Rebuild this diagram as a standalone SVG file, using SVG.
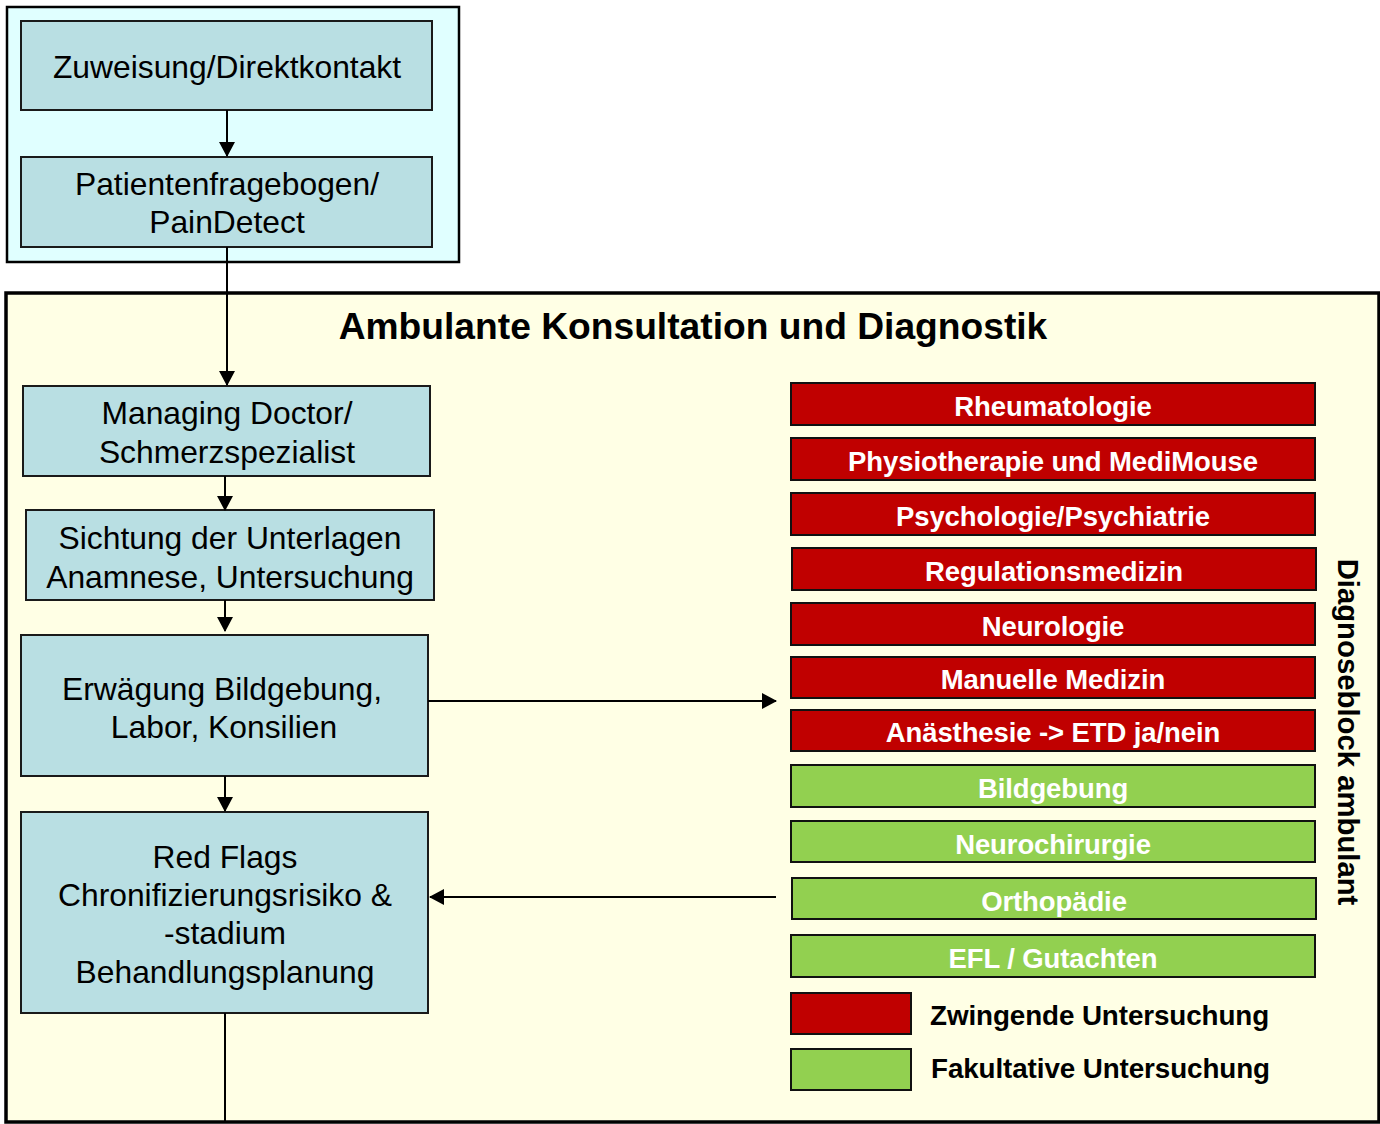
<svg xmlns="http://www.w3.org/2000/svg" width="1380" height="1124" viewBox="0 0 1380 1124">
<defs>
<marker id="ah" markerWidth="15" markerHeight="16" refX="14" refY="8" orient="auto" markerUnits="userSpaceOnUse">
<path d="M0,0 L15,8 L0,16 Z" fill="#000"/>
</marker>
<style>
.node{fill:#B9DFE3;stroke:#1a1a1a;stroke-width:2}
.t{font-family:"Liberation Sans",Arial,sans-serif;font-size:31.8px;fill:#000;text-anchor:middle}
.red{fill:#C00000;stroke:#111;stroke-width:2}
.grn{fill:#92D050;stroke:#111;stroke-width:2}
.w{font-family:"Liberation Sans",Arial,sans-serif;font-size:27.5px;font-weight:bold;fill:#fff;text-anchor:middle;letter-spacing:-0.1px}
.b{font-family:"Liberation Sans",Arial,sans-serif;font-size:27.8px;font-weight:bold;fill:#000;letter-spacing:-0.1px}
.c{stroke:#000;stroke-width:2;fill:none}
</style>
</defs>
<rect width="1380" height="1124" fill="#fff"/>
<g id="intake-container">
<rect x="7" y="7" width="452" height="255" fill="#E0FFFF" stroke="#000" stroke-width="2.5"/>
</g>
<g id="ambulant-container">
<rect x="6" y="293" width="1373" height="829" fill="#FFFFE5" stroke="#000" stroke-width="3.5"/>
<text x="693" y="339" font-family="Liberation Sans,Arial,sans-serif" font-size="37.2" font-weight="bold" text-anchor="middle" fill="#000">Ambulante Konsultation und Diagnostik</text>
</g>
<g id="zuweisung"><rect class="node" x="21" y="21" width="411" height="89"/><text class="t" x="227" y="78">Zuweisung/Direktkontakt</text></g>
<g id="patientenfragebogen"><rect class="node" x="21" y="157" width="411" height="90"/><text class="t" x="227" y="195">Patientenfragebogen/</text><text class="t" x="227" y="233">PainDetect</text></g>
<g id="managing"><rect class="node" x="23" y="386" width="407" height="90"/><text class="t" x="227" y="424">Managing Doctor/</text><text class="t" x="227" y="463">Schmerzspezialist</text></g>
<g id="sichtung"><rect class="node" x="26" y="510" width="408" height="90"/><text class="t" x="230" y="549">Sichtung der Unterlagen</text><text class="t" x="230" y="588">Anamnese, Untersuchung</text></g>
<g id="erwaegung"><rect class="node" x="21" y="635" width="407" height="141"/><text class="t" x="222" y="700">Erwägung Bildgebung,</text><text class="t" x="224" y="738">Labor, Konsilien</text></g>
<g id="redflags"><rect class="node" x="21" y="812" width="407" height="201"/><text class="t" x="225" y="868">Red Flags</text><text class="t" x="225" y="906">Chronifizierungsrisiko &amp;</text><text class="t" x="225" y="944">-stadium</text><text class="t" x="225" y="983">Behandlungsplanung</text></g>
<g id="rheumatologie"><rect class="red" x="791" y="383" width="524" height="42"/><text class="w" x="1053" y="416">Rheumatologie</text></g>
<g id="physiotherapie"><rect class="red" x="791" y="438" width="524" height="42"/><text class="w" x="1053" y="471">Physiotherapie und MediMouse</text></g>
<g id="psychologie"><rect class="red" x="791" y="493" width="524" height="42"/><text class="w" x="1053" y="526">Psychologie/Psychiatrie</text></g>
<g id="regulationsmedizin"><rect class="red" x="792" y="548" width="524" height="42"/><text class="w" x="1054" y="581">Regulationsmedizin</text></g>
<g id="neurologie"><rect class="red" x="791" y="603" width="524" height="42"/><text class="w" x="1053" y="636">Neurologie</text></g>
<g id="manuelle"><rect class="red" x="791" y="657" width="524" height="41"/><text class="w" x="1053" y="689">Manuelle Medizin</text></g>
<g id="anaesthesie"><rect class="red" x="791" y="710" width="524" height="41"/><text class="w" x="1053" y="742">Anästhesie -&gt; ETD ja/nein</text></g>
<g id="bildgebung"><rect class="grn" x="791" y="765" width="524" height="42"/><text class="w" x="1053" y="798">Bildgebung</text></g>
<g id="neurochirurgie"><rect class="grn" x="791" y="821" width="524" height="41"/><text class="w" x="1053" y="854">Neurochirurgie</text></g>
<g id="orthopaedie"><rect class="grn" x="792" y="878" width="524" height="41"/><text class="w" x="1054" y="911">Orthopädie</text></g>
<g id="efl"><rect class="grn" x="791" y="935" width="524" height="42"/><text class="w" x="1053" y="968">EFL / Gutachten</text></g>
<g id="legend-red"><rect class="red" x="791" y="993" width="120" height="41"/><text class="b" x="930" y="1025">Zwingende Untersuchung</text></g>
<g id="legend-green"><rect class="grn" x="791" y="1049" width="120" height="41"/><text class="b" x="931" y="1078">Fakultative Untersuchung</text></g>
<g id="diagnoseblock-label"><text transform="translate(1338,732) rotate(90)" font-family="Liberation Sans,Arial,sans-serif" font-size="29.3" font-weight="bold" text-anchor="middle" fill="#000">Diagnoseblock ambulant</text></g>
<g id="connectors">
<line class="c" x1="227" y1="110" x2="227" y2="156" marker-end="url(#ah)"/>
<line class="c" x1="227" y1="247" x2="227" y2="385" marker-end="url(#ah)"/>
<line class="c" x1="225" y1="476" x2="225" y2="510" marker-end="url(#ah)"/>
<line class="c" x1="225" y1="600" x2="225" y2="631" marker-end="url(#ah)"/>
<line class="c" x1="225" y1="776" x2="225" y2="811" marker-end="url(#ah)"/>
<line class="c" x1="428" y1="701" x2="776" y2="701" marker-end="url(#ah)"/>
<line class="c" x1="776" y1="897" x2="430" y2="897" marker-end="url(#ah)"/>
<line class="c" x1="225" y1="1013" x2="225" y2="1122"/>
</g>
</svg>
